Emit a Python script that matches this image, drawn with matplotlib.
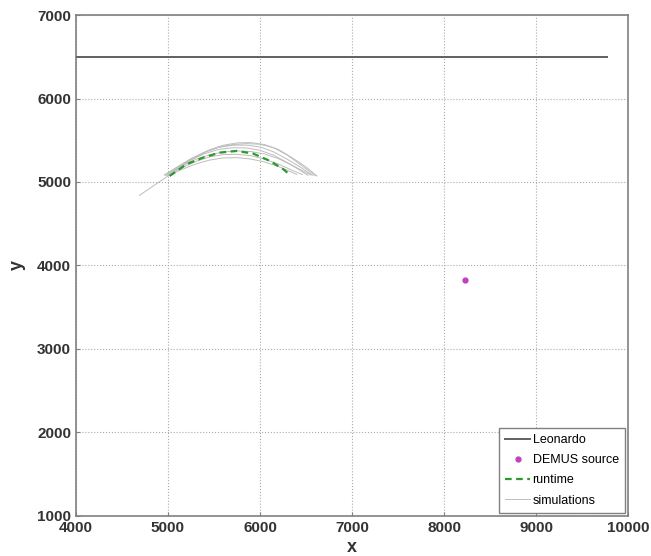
import numpy as np
import matplotlib
matplotlib.use("Agg")
import matplotlib.pyplot as plt

# Leonardo (horizontal track)
leo_x = [4000, 9770]
leo_y = [6500, 6500]

# DEMUS source
src_x = [8230]
src_y = [3830]

# runtime trajectory
run_x = [5018, 5200, 5382, 5564, 5745, 5927, 6109, 6255, 6327]
run_y = [5072, 5212, 5292, 5352, 5372, 5340, 5252, 5152, 5084]

# simulation trajectories
sim_x = [
    [4690, 4850, 5000, 5150, 5300, 5450, 5600, 5750, 5900, 6050, 6200, 6350, 6500, 6620],
    [4960, 5100, 5250, 5400, 5550, 5700, 5850, 6000, 6150, 6300, 6450, 6570],
    [4980, 5100, 5250, 5400, 5550, 5700, 5850, 6000, 6150, 6300, 6420, 6520],
    [5000, 5150, 5300, 5450, 5600, 5750, 5900, 6050, 6200, 6350, 6460],
    [5000, 5150, 5300, 5450, 5600, 5750, 5900, 6050, 6200, 6320, 6400],
    [4990, 5150, 5300, 5450, 5600, 5750, 5900, 6050, 6200, 6350, 6470, 6550],
    [4970, 5100, 5250, 5400, 5550, 5700, 5850, 6000, 6150, 6300, 6450, 6600],
]
sim_y = [
    [4840, 4960, 5072, 5190, 5295, 5385, 5440, 5468, 5472, 5448, 5390, 5290, 5180, 5072],
    [5085, 5180, 5280, 5360, 5415, 5440, 5442, 5420, 5360, 5270, 5170, 5080],
    [5085, 5170, 5265, 5340, 5390, 5410, 5408, 5380, 5320, 5230, 5150, 5080],
    [5080, 5170, 5245, 5300, 5328, 5332, 5315, 5275, 5215, 5140, 5090],
    [5075, 5150, 5215, 5262, 5288, 5292, 5275, 5240, 5185, 5130, 5090],
    [5080, 5190, 5270, 5325, 5360, 5372, 5365, 5335, 5280, 5200, 5130, 5085],
    [5080, 5175, 5275, 5355, 5415, 5448, 5460, 5452, 5410, 5320, 5200, 5075],
]

plt.rcParams["font.family"] = ["Liberation Sans", "DejaVu Sans"]

fig = plt.figure(figsize=(6.51, 5.56), dpi=100)
ax = fig.add_axes([0.1167, 0.072, 0.848, 0.901])

ax.plot(leo_x, leo_y, color="#606060", lw=1.4, label="Leonardo", zorder=3)
ax.plot(src_x, src_y, "o", color="#c040c0", ms=3.5, label="DEMUS source", zorder=4)
ax.plot(run_x, run_y, "--", color="#2a9a2a", lw=1.6, dashes=(3, 2),
        label="runtime", zorder=5)
for i in range(len(sim_x)):
    ax.plot(sim_x[i], sim_y[i], color="#bdbdbd", lw=0.7,
            label="simulations" if i == 0 else None, zorder=2)

ax.set_xlim(4000, 10000)
ax.set_ylim(1000, 7000)
ax.set_xticks(np.arange(4000, 10001, 1000))
ax.set_yticks(np.arange(1000, 7001, 1000))
ax.grid(True, linestyle=":", color="#aaaaaa", lw=0.8)
ax.tick_params(direction="in", length=3, color="#808080", labelsize=11)
for lab in ax.get_xticklabels() + ax.get_yticklabels():
    lab.set_fontweight("bold")
    lab.set_color("#333333")
for s in ax.spines.values():
    s.set_color("#808080")
    s.set_linewidth(1.2)

ax.set_xlabel("x", fontsize=13, fontweight="bold", color="#333333", labelpad=3)
ax.set_ylabel("y", fontsize=13, fontweight="bold", color="#333333", labelpad=8)

leg = ax.legend(loc="lower right", fontsize=9, fancybox=False, framealpha=1,
                edgecolor="#808080", borderaxespad=0.25, handlelength=2.0,
                handletextpad=0.2, labelspacing=0.65, borderpad=0.5)
leg.get_frame().set_linewidth(1.0)

fig.savefig("out.png", dpi=100)
